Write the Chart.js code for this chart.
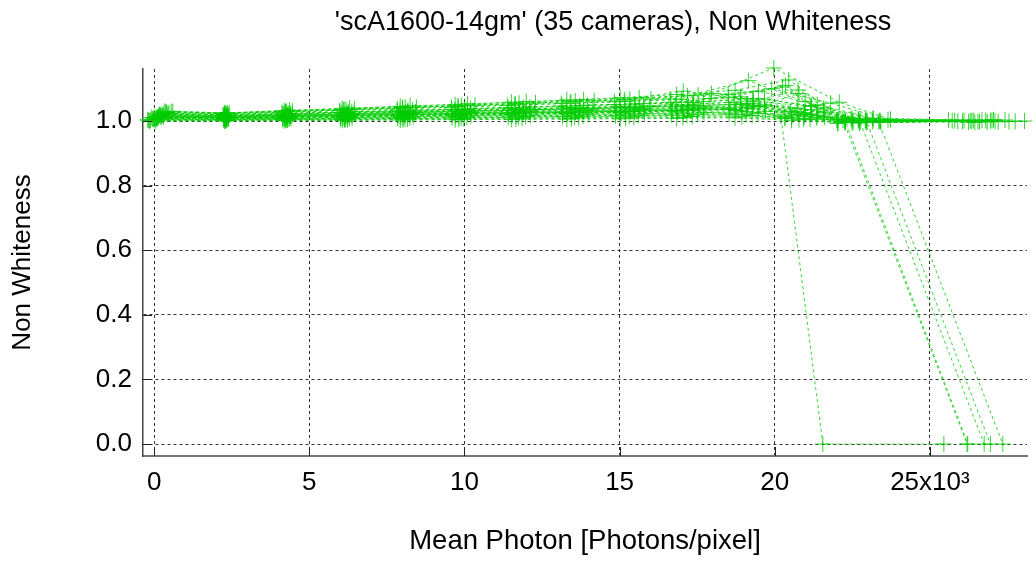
<!DOCTYPE html>
<html>
<head>
<meta charset="utf-8">
<title>Non Whiteness</title>
<script src="https://cdn.jsdelivr.net/npm/chart.js@4.4.1/dist/chart.umd.min.js"></script>
<style>
  html, body { margin: 0; padding: 0; background: #ffffff; }
  #chart { display: block; }
</style>
</head>
<body>
<canvas id="chart" width="1036" height="561"></canvas>
<script>
// ============================================
// Non Whiteness vs Mean Photon, 35 cameras
// ============================================

const chartTitle = "'scA1600-14gm' (35 cameras), Non Whiteness";
const xAxisTitle = 'Mean Photon [Photons/pixel]';
const yAxisTitle = 'Non Whiteness';

// x values are in 10^3 photons/pixel
const xTickValues = [0, 5, 10, 15, 20, 25];
const xTickLabels = ['0', '5', '10', '15', '20', '25x10\u00B3'];
const yTickValues = [0, 0.2, 0.4, 0.6, 0.8, 1.0];
const yTickLabels = ['0.0', '0.2', '0.4', '0.6', '0.8', '1.0'];

const cameraNames = [
    'cam01', 'cam02', 'cam03', 'cam04', 'cam05', 'cam06', 'cam07',
    'cam08', 'cam09', 'cam10', 'cam11', 'cam12', 'cam13', 'cam14',
    'cam15', 'cam16', 'cam17', 'cam18', 'cam19', 'cam20', 'cam21',
    'cam22', 'cam23', 'cam24', 'cam25', 'cam26', 'cam27', 'cam28',
    'cam29', 'cam30', 'cam31', 'cam32', 'cam33', 'cam34', 'cam35'
];

const photonMean = [
    [-0.21, 2.24, 4.14, 6.00, 7.85, 9.60, 11.41, 13.16, 14.87, 16.67, 18.53, 20.33, 22.04, 25.72],
    [0.02, 2.25, 4.15, 6.01, 7.87, 9.62, 11.43, 13.18, 14.90, 16.70, 18.56, 20.20, 21.55, 25.45],
    [0.10, 2.27, 4.19, 6.06, 7.93, 9.70, 11.52, 13.30, 15.02, 16.84, 18.72, 20.54, 22.26, 26.05],
    [0.18, 2.26, 4.18, 6.05, 7.92, 9.68, 11.50, 13.28, 15.00, 16.81, 18.69, 20.50, 22.20, 26.20],
    [-0.05, 2.28, 4.20, 6.08, 7.95, 9.72, 11.55, 13.33, 15.05, 16.87, 18.75, 20.58, 22.28, 26.22],
    [0.25, 2.29, 4.23, 6.12, 8.01, 9.80, 11.64, 13.43, 15.17, 17.01, 18.91, 20.75, 22.49, 26.40],
    [0.05, 2.30, 4.24, 6.13, 8.02, 9.82, 11.66, 13.45, 15.19, 17.04, 18.94, 20.78, 22.52, 26.55],
    [0.32, 2.28, 4.22, 6.11, 8.00, 9.79, 11.62, 13.41, 15.15, 16.99, 18.89, 20.72, 22.46],
    [0.12, 2.31, 4.27, 6.18, 8.09, 9.90, 11.76, 13.57, 15.33, 17.19, 19.10, 20.95, 22.71, 26.68],
    [0.20, 2.32, 4.28, 6.19, 8.10, 9.92, 11.78, 13.59, 15.35, 17.21, 19.12, 20.97, 22.75, 26.75],
    [-0.12, 2.30, 4.26, 6.17, 8.08, 9.89, 11.74, 13.55, 15.31, 17.17, 19.08, 20.93, 22.69, 26.85],
    [0.40, 2.31, 4.27, 6.18, 8.09, 9.90, 11.76, 13.57, 15.33, 17.19, 19.15, 20.98, 22.73, 26.95],
    [0.08, 2.33, 4.31, 6.24, 8.17, 10.00, 11.88, 13.70, 15.48, 17.36, 19.29, 21.16, 22.95, 26.95],
    [0.15, 2.34, 4.32, 6.25, 8.18, 10.02, 11.90, 13.72, 15.50, 17.38, 19.31, 21.18, 22.97, 27.05],
    [-0.18, 2.32, 4.30, 6.23, 8.16, 9.98, 11.86, 13.68, 15.46, 17.34, 19.27, 21.14, 22.92, 25.90],
    [0.28, 2.23, 4.13, 5.99, 7.84, 9.59, 11.40, 13.14, 14.85, 16.65, 18.51, 20.35, 22.02, 26.10],
    [0.22, 2.36, 4.36, 6.30, 8.25, 10.10, 11.99, 13.84, 15.63, 17.53, 19.48, 21.37, 23.17, 27.20],
    [0.00, 2.35, 4.35, 6.29, 8.24, 10.08, 11.97, 13.82, 15.61, 17.51, 19.46, 21.35, 23.15, 26.30],
    [0.35, 2.27, 4.19, 6.06, 7.93, 9.70, 11.52, 13.30, 15.02, 16.84, 18.72, 20.45, 22.26, 26.45],
    [0.30, 2.38, 4.40, 6.37, 8.33, 10.19, 12.11, 13.97, 15.78, 17.70, 19.67, 21.58, 23.35, 27.35],
    [0.45, 2.38, 4.40, 6.37, 8.33, 10.19, 12.11, 13.97, 15.78, 17.70, 19.67, 21.58, 23.39, 27.42],
    [0.08, 2.39, 4.41, 6.38, 8.35, 10.21, 12.13, 13.99, 15.80, 17.72, 19.70, 21.60, 23.42],
    [0.55, 2.42, 4.46, 6.46, 8.45, 10.34, 12.29, 14.18, 16.01, 17.96, 19.97, 22.08, 23.73, 28.05],
    [0.38, 2.29, 4.23, 6.12, 8.01, 9.80, 11.64, 13.43, 15.17, 17.05, 18.91, 20.75, 22.49, 27.00],
    [-0.08, 2.31, 4.27, 6.18, 8.09, 9.90, 11.76, 13.57, 15.33, 17.19, 19.10, 20.95, 22.71],
    [0.18, 2.33, 4.31, 6.24, 8.17, 10.00, 11.88, 13.70, 15.48, 17.36, 19.29, 21.16, 22.94, 27.75],
    [0.48, 2.22, 4.12, 5.98, 7.83, 9.58, 11.38, 13.12, 14.83, 16.63, 18.50, 20.25, 22.00, 25.80],
    [-0.15, 2.27, 4.19, 6.06, 7.93, 9.70, 11.52, 13.30, 15.02, 16.84, 18.72, 20.54, 22.26, 26.60],
    [0.60, 2.36, 4.36, 6.30, 8.25, 10.10, 11.99, 13.84, 15.63, 17.53, 19.48, 21.37, 23.17, 26.80],
    [0.12, 2.38, 4.40, 6.37, 8.33, 10.19, 12.11, 13.97, 15.78, 17.70, 19.67, 21.58, 23.39, 27.10],
    [0.25, 2.41, 4.45, 6.44, 8.42, 10.31, 12.25, 14.14, 15.97, 17.91, 19.90, 21.80, 23.65, 26.25],
    [0.06, 2.24, 4.14, 6.00, 7.85, 9.60, 11.41, 13.16, 14.87, 16.67, 18.53, 20.33, 22.04],
    [-0.02, 2.30, 4.24, 6.13, 8.02, 9.82, 11.66, 13.45, 15.19, 17.04, 18.94, 20.78, 22.52, 25.60],
    [0.42, 2.34, 4.32, 6.25, 8.18, 10.02, 11.90, 13.72, 15.50, 17.38, 19.31, 21.18, 22.97, 26.35],
    [0.15, 2.32, 4.28, 6.19, 8.10, 9.92, 11.78, 13.59, 15.35, 17.21, 19.12, 20.97, 22.75, 27.55]
];

const nonWhiteness = [
    [1.004, 1.003, 1.005, 1.006, 1.008, 1.010, 1.012, 1.014, 1.016, 1.019, 1.022, 1.008, 1.004, 1.001],
    [1.012, 1.010, 1.014, 1.017, 1.020, 1.022, 1.025, 1.027, 1.030, 1.033, 1.036, 1.015, 0.000, 0.000],
    [1.008, 1.007, 1.009, 1.012, 1.015, 1.018, 1.021, 1.024, 1.027, 1.031, 1.036, 1.012, 0.996, 0.999],
    [1.020, 1.016, 1.021, 1.026, 1.030, 1.034, 1.038, 1.041, 1.045, 1.050, 1.058, 1.030, 1.003, 0.000],
    [1.006, 1.005, 1.008, 1.010, 1.013, 1.016, 1.019, 1.022, 1.025, 1.028, 1.032, 1.018, 0.998, 0.000],
    [1.015, 1.013, 1.017, 1.021, 1.025, 1.029, 1.033, 1.037, 1.041, 1.046, 1.052, 1.096, 1.006, 1.002],
    [1.001, 1.001, 1.002, 1.003, 1.004, 1.005, 1.006, 1.008, 1.009, 1.011, 1.013, 1.004, 0.995, 0.998],
    [1.025, 1.022, 1.028, 1.034, 1.040, 1.045, 1.050, 1.055, 1.060, 1.066, 1.075, 1.040, 1.008],
    [1.010, 1.009, 1.012, 1.015, 1.018, 1.021, 1.024, 1.027, 1.030, 1.034, 1.040, 1.020, 1.001, 1.003],
    [1.018, 1.015, 1.019, 1.023, 1.027, 1.031, 1.035, 1.038, 1.042, 1.047, 1.053, 1.026, 0.997, 0.000],
    [1.003, 1.003, 1.004, 1.006, 1.007, 1.009, 1.011, 1.013, 1.015, 1.017, 1.020, 1.007, 1.005, 0.997],
    [1.028, 1.024, 1.030, 1.036, 1.042, 1.048, 1.055, 1.062, 1.068, 1.078, 1.125, 1.060, 0.994, 1.001],
    [1.009, 1.008, 1.011, 1.014, 1.017, 1.020, 1.023, 1.026, 1.029, 1.033, 1.038, 1.022, 1.002, 0.000],
    [1.016, 1.014, 1.018, 1.022, 1.026, 1.030, 1.034, 1.038, 1.042, 1.047, 1.055, 1.035, 0.997, 1.004],
    [1.002, 1.002, 1.003, 1.004, 1.006, 1.007, 1.009, 1.010, 1.012, 1.014, 1.017, 1.005, 1.003, 0.999],
    [1.020, 1.017, 1.022, 1.027, 1.031, 1.036, 1.041, 1.046, 1.051, 1.058, 1.072, 1.110, 0.993, 1.002],
    [1.012, 1.010, 1.013, 1.017, 1.020, 1.024, 1.027, 1.031, 1.034, 1.039, 1.045, 1.016, 1.007, 0.998],
    [1.005, 1.004, 1.006, 1.008, 1.010, 1.012, 1.014, 1.016, 1.018, 1.021, 1.024, 1.010, 0.999, 1.001],
    [1.030, 1.025, 1.032, 1.038, 1.045, 1.050, 1.058, 1.065, 1.072, 1.082, 1.095, 1.127, 1.004, 0.996],
    [1.014, 1.012, 1.016, 1.020, 1.024, 1.027, 1.031, 1.035, 1.039, 1.044, 1.050, 1.025, 0.998, 0.000],
    [1.022, 1.019, 1.024, 1.029, 1.034, 1.039, 1.044, 1.049, 1.054, 1.060, 1.068, 1.040, 1.002, 1.003],
    [1.007, 1.006, 1.008, 1.011, 1.013, 1.016, 1.018, 1.021, 1.023, 1.026, 1.030, 1.012, 0.996],
    [1.028, 1.024, 1.031, 1.037, 1.043, 1.049, 1.056, 1.062, 1.068, 1.085, 1.164, 1.058, 1.005, 1.000],
    [1.026, 1.023, 1.029, 1.035, 1.041, 1.047, 1.053, 1.060, 1.066, 1.092, 1.070, 1.030, 0.995, 1.002],
    [1.011, 1.010, 1.013, 1.016, 1.019, 1.022, 1.025, 1.028, 1.031, 1.035, 1.042, 1.015, 1.006],
    [1.019, 1.016, 1.020, 1.025, 1.029, 1.033, 1.037, 1.042, 1.046, 1.052, 1.062, 1.045, 0.998, 0.999],
    [1.024, 1.020, 1.026, 1.032, 1.037, 1.042, 1.048, 1.054, 1.060, 1.068, 1.082, 1.105, 1.003, 1.001],
    [1.000, 1.000, 1.001, 1.002, 1.003, 1.004, 1.005, 1.006, 1.007, 1.008, 1.010, 1.002, 0.997, 0.998],
    [1.030, 1.025, 1.033, 1.040, 1.047, 1.053, 1.060, 1.066, 1.072, 1.080, 1.092, 1.050, 1.009, 1.002],
    [1.013, 1.011, 1.015, 1.018, 1.022, 1.025, 1.029, 1.032, 1.036, 1.040, 1.047, 1.028, 0.999, 1.000],
    [1.017, 1.015, 1.019, 1.023, 1.028, 1.032, 1.036, 1.040, 1.045, 1.070, 1.100, 1.055, 1.004, 0.997],
    [1.009, 1.008, 1.010, 1.013, 1.016, 1.019, 1.022, 1.025, 1.028, 1.032, 1.038, 1.012, 0.994],
    [1.006, 1.005, 1.007, 1.009, 1.011, 1.014, 1.016, 1.018, 1.021, 1.024, 1.028, 1.085, 1.002, 1.003],
    [1.021, 1.018, 1.023, 1.028, 1.033, 1.037, 1.042, 1.047, 1.052, 1.058, 1.070, 1.048, 0.996, 1.000],
    [1.014, 1.012, 1.016, 1.019, 1.023, 1.026, 1.030, 1.033, 1.037, 1.041, 1.048, 1.020, 1.001, 0.998]
];

const FONT_FAMILY = "'Liberation Sans', Arial, Helvetica, sans-serif";
const SERIES_COLOR = 'rgba(0, 204, 0, 0.8)';

// gnuplot style: title text and small inward ticks on left / bottom axes
const plotDecorations = {
    id: 'plotDecorations',
    afterDraw(chart) {
        const ctx = chart.ctx;
        const area = chart.chartArea;
        const xs = chart.scales.x;
        const ys = chart.scales.y;

        ctx.save();
        ctx.strokeStyle = '#222222';
        ctx.lineWidth = 1;
        ctx.beginPath();
        xTickValues.forEach(v => {
            const px = Math.round(xs.getPixelForValue(v)) + 0.5;
            ctx.moveTo(px, area.bottom);
            ctx.lineTo(px, area.bottom - 9);
        });
        yTickValues.forEach(v => {
            const py = Math.round(ys.getPixelForValue(v)) + 0.5;
            ctx.moveTo(area.left, py);
            ctx.lineTo(area.left + 9, py);
        });
        ctx.stroke();

        ctx.fillStyle = '#000000';
        ctx.font = '27px ' + FONT_FAMILY;
        ctx.textAlign = 'center';
        ctx.textBaseline = 'alphabetic';
        ctx.fillText(chartTitle, 613, 30);
        ctx.restore();
    }
};

const datasets = cameraNames.map((name, i) => ({
    label: name,
    data: photonMean[i].map((x, j) => ({ x: x, y: nonWhiteness[i][j] })),
    borderColor: SERIES_COLOR,
    backgroundColor: SERIES_COLOR,
    borderWidth: 1,
    borderDash: [3, 3],
    pointStyle: 'cross',
    pointRadius: 8,
    pointBorderWidth: 1,
    pointHoverRadius: 8,
    showLine: true,
    fill: false,
    tension: 0,
    clip: false
}));

new Chart(document.getElementById('chart'), {
    type: 'scatter',
    data: { datasets: datasets },
    options: {
        responsive: false,
        animation: false,
        devicePixelRatio: 1,
        layout: { padding: { top: 69, right: 3, left: 0, bottom: 0 } },
        plugins: {
            legend: { display: false },
            tooltip: { enabled: false }
        },
        scales: {
            x: {
                type: 'linear',
                min: -0.36,
                max: 28.13,
                afterBuildTicks: function(scale) {
                    scale.ticks = xTickValues.map(v => ({ value: v }));
                },
                afterFit: function(scale) { scale.height = 105; },
                ticks: {
                    autoSkip: false,
                    maxRotation: 0,
                    padding: 11,
                    color: '#000000',
                    font: { family: FONT_FAMILY, size: 26 },
                    callback: function(value, index) { return xTickLabels[index]; }
                },
                grid: { color: 'rgba(0, 0, 0, 0.8)', lineWidth: 1, drawTicks: false },
                border: { display: true, color: '#777777', width: 2, dash: [3, 3] },
                title: {
                    display: true,
                    text: xAxisTitle,
                    color: '#000000',
                    font: { family: FONT_FAMILY, size: 27.5 },
                    padding: { top: 3, bottom: 3 }
                }
            },
            y: {
                type: 'linear',
                min: -0.037,
                max: 1.161,
                afterBuildTicks: function(scale) {
                    scale.ticks = yTickValues.map(v => ({ value: v }));
                },
                afterFit: function(scale) { scale.width = 143; },
                ticks: {
                    padding: 11,
                    color: '#000000',
                    font: { family: FONT_FAMILY, size: 26 },
                    callback: function(value, index) { return yTickLabels[index]; }
                },
                grid: { color: 'rgba(0, 0, 0, 0.8)', lineWidth: 1, drawTicks: false },
                border: { display: true, color: '#444444', width: 1.5, dash: [3, 3] },
                title: {
                    display: true,
                    text: yAxisTitle,
                    color: '#000000',
                    font: { family: FONT_FAMILY, size: 26 },
                    padding: { top: 7, bottom: 7 }
                }
            }
        }
    },
    plugins: [plotDecorations]
});
</script>
</body>
</html>
